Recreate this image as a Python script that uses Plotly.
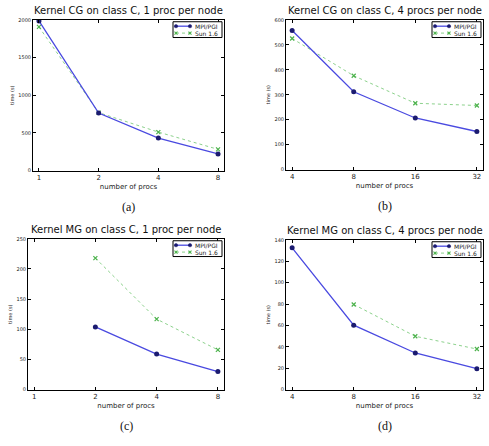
import numpy as np
import plotly.graph_objects as go

W, H = 489, 446

# ---- data ----
procs_a = [1, 2, 4, 8]
mpi_a = [1985, 765, 432, 222]
sun_a = [1905, 770, 512, 283]

procs_b = [4, 8, 16, 32]
mpi_b = [557, 312, 207, 153]
sun_b = [525, 376, 266, 257]

procs_c = [1, 2, 4, 8]
procs_c_data = [2, 4, 8]
mpi_c = [104, 59, 30]
sun_c = [218, 117, 66]

procs_d = [4, 8, 16, 32]
procs_d_sun = [8, 16, 32]
mpi_d = [132.5, 60.3, 34.3, 19.6]
sun_d = [79.6, 49.9, 38]

series_names = ["MPI/PGI", "Sun 1.6"]
titles = ["Kernel CG on class C, 1 proc per node",
          "Kernel CG on class C, 4 procs per node",
          "Kernel MG on class C, 1 proc per node",
          "Kernel MG on class C, 4 procs per node"]
sublabels = ["(a)", "(b)", "(c)", "(d)"]
yranges = [(0, 2000, 500), (0, 600, 100), (0, 250, 50), (0, 140, 20)]

# pixel boxes (left, top, right, bottom)
boxes = [(33, 17, 224, 170), (286, 17, 483, 169), (28, 239, 224, 392), (286, 240, 483, 392)]

MPI_LINE = "#4a4ae0"
MPI_MARK = "#1b1b70"
SUN_COL = "#4cb24c"
SUN_LINE = "#7fcc7f"

fig = go.Figure()

panels = [
    (procs_a, procs_a, mpi_a, procs_a, sun_a),
    (procs_b, procs_b, mpi_b, procs_b, sun_b),
    (procs_c, procs_c_data, mpi_c, procs_c_data, sun_c),
    (procs_d, procs_d, mpi_d, procs_d_sun, sun_d),
]


def px(x):
    return x / W


def py(y):
    return 1 - y / H


layout = dict()
annotations = []
shapes = []
for i, (ticks, xm, ym, xs, ys) in enumerate(panels):
    k = "" if i == 0 else str(i + 1)
    l, t, r, b = boxes[i]
    xd = [l / W, r / W]
    yd = [1 - b / H, 1 - t / H]
    fig.add_trace(go.Scatter(x=xs, y=ys, mode="lines+markers", name=series_names[1],
                             line=dict(color=SUN_LINE, width=0.9, dash="dot"),
                             marker=dict(color=SUN_COL, size=4, symbol="x-thin",
                                         line=dict(color=SUN_COL, width=1.2)),
                             xaxis="x" + k, yaxis="y" + k, showlegend=False))
    fig.add_trace(go.Scatter(x=xm, y=ym, mode="lines+markers", name=series_names[0],
                             line=dict(color=MPI_LINE, width=1.3),
                             marker=dict(color=MPI_MARK, size=5, symbol="circle"),
                             xaxis="x" + k, yaxis="y" + k, showlegend=False))
    lo = np.log10(ticks[0]) - 0.03
    hi = np.log10(ticks[-1]) + 0.03
    axcommon = dict(showline=True, linecolor="black", linewidth=1, mirror="ticks",
                    ticks="inside", ticklen=3, tickcolor="black", showgrid=False,
                    zeroline=False)
    layout["xaxis" + k] = dict(domain=xd, anchor="y" + k, type="log",
                               range=[lo, hi], tickvals=ticks,
                               ticktext=[str(v) for v in ticks],
                               tickfont=dict(size=7, family="DejaVu Sans", color="#222"),
                               title=dict(text="number of procs", standoff=2,
                                          font=dict(size=7, family="DejaVu Sans", color="#222")),
                               **axcommon)
    y0, y1, dy = yranges[i]
    layout["yaxis" + k] = dict(domain=yd, anchor="x" + k, range=[y0, y1],
                               tickvals=list(range(y0, y1 + 1, dy)),
                               tickfont=dict(size=5, family="DejaVu Sans", color="#222"),
                               title=dict(text="time (s)", standoff=3,
                                          font=dict(size=5, family="DejaVu Sans", color="#222")),
                               **axcommon)
    # manual compact legend (matplotlib style)
    bx0, bx1 = r - 51, r - 2
    by0, by1 = t + 2, t + 18
    shapes.append(dict(type="rect", xref="paper", yref="paper",
                       x0=px(bx0), x1=px(bx1), y0=py(by1), y1=py(by0),
                       line=dict(color="black", width=1), fillcolor="white", layer="above"))
    lx0, lx1 = bx0 + 3, bx0 + 17
    for j, yy in enumerate([by0 + 4.5, by0 + 11.5]):
        if j == 0:
            shapes.append(dict(type="line", xref="paper", yref="paper",
                               x0=px(lx0), x1=px(lx1), y0=py(yy), y1=py(yy),
                               line=dict(color=MPI_LINE, width=1.3), layer="above"))
            for xx in (lx0, lx1):
                shapes.append(dict(type="circle", xref="paper", yref="paper",
                                   x0=px(xx - 1.7), x1=px(xx + 1.7),
                                   y0=py(yy + 1.7), y1=py(yy - 1.7),
                                   fillcolor=MPI_MARK, line=dict(color=MPI_MARK, width=0.5),
                                   layer="above"))
        else:
            shapes.append(dict(type="line", xref="paper", yref="paper",
                               x0=px(lx0), x1=px(lx1), y0=py(yy), y1=py(yy),
                               line=dict(color=SUN_LINE, width=0.9, dash="dot"), layer="above"))
            for xx in (lx0, lx1):
                for s in (-1, 1):
                    shapes.append(dict(type="line", xref="paper", yref="paper",
                                       x0=px(xx - 1.5), x1=px(xx + 1.5),
                                       y0=py(yy - 1.5 * s), y1=py(yy + 1.5 * s),
                                       line=dict(color=SUN_COL, width=1.1), layer="above"))
        annotations.append(dict(text=series_names[j], x=px(lx1 + 3), y=py(yy),
                                xref="paper", yref="paper", showarrow=False,
                                xanchor="left", yanchor="middle",
                                font=dict(size=6, family="DejaVu Sans", color="#222")))
    annotations.append(dict(text=titles[i], x=(l + r) / 2 / W, y=1 - (t - 9) / H,
                            xref="paper", yref="paper", showarrow=False,
                            xanchor="center", yanchor="middle",
                            font=dict(size=10, family="DejaVu Sans", color="#111")))
    annotations.append(dict(text=sublabels[i], x=(l + r) / 2 / W, y=1 - (b + 37) / H,
                            xref="paper", yref="paper", showarrow=False,
                            xanchor="center", yanchor="middle",
                            font=dict(size=12, family="Liberation Serif", color="#111")))

fig.update_layout(width=W, height=H, margin=dict(l=0, r=0, t=0, b=0),
                  paper_bgcolor="white", plot_bgcolor="white", showlegend=False,
                  annotations=annotations, shapes=shapes, **layout)

fig.write_html("out.html")
